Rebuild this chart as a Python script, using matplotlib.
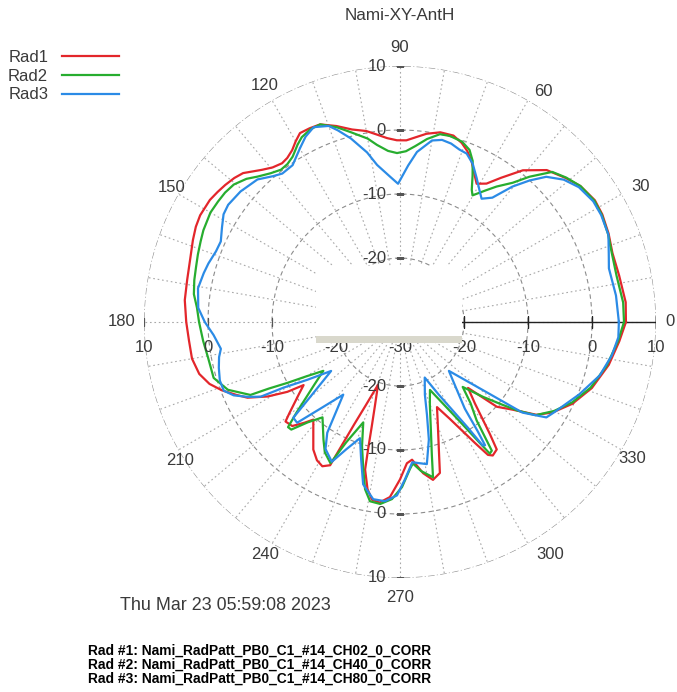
import numpy as np
import matplotlib
matplotlib.use("Agg")
import matplotlib.pyplot as plt
from matplotlib.patches import Rectangle

# ---------------- data ----------------
title = "Nami-XY-AntH"
series_names = ["Rad1", "Rad2", "Rad3"]
series_colors = ["#e3262b", "#27ad2f", "#2b8be6"]

rad1_deg = [0, 5, 12, 18, 23, 28, 32, 37, 41, 46, 51, 55, 58, 61, 63, 66, 68.5, 71, 74, 78,
            82, 85, 88, 91, 94, 97, 100, 104, 108, 112, 115, 117.9, 120, 122.1, 124.5, 126.6,
            129.5, 132.2, 136.5, 139, 141.9, 144.5, 147.3, 151.9, 155, 158.4, 163.6, 168.8,
            174.2, 180, 185, 190, 194.5, 198, 201, 204,
            206.4, 209.4, 211.8, 213.2, 215.5, 217.4, 219.5, 221, 224, 226.5, 228.4, 232, 235.8,
            239, 241.7, 244, 244.8, 245.9, 247.7, 250.7, 253.3, 254.9, 255.9, 256.7, 259, 261,
            263.5, 266.7, 270, 272.8, 275, 278.7, 281.8, 284.8, 286.9, 289.7, 293.5, 297.2,
            299.8, 301.8, 303.5, 304.8, 307.2, 308.7, 310.4, 312.6, 315.9, 318.8, 322.1, 325.8,
            329.3, 334.6, 341, 348.4, 355]
rad1_db = [5.3, 5.4, 5.0, 4.9, 5.4, 5.8, 5.9, 5.3, 4.3, 3.0, 0.5, -2.5, -4.5, -5.3, -4.3, -2.5,
           -1.3, -0.4, 0.3, 0.3, -0.3, -1.0, -1.6, -1.6, -1.2, -0.5, 0.3, 1.0, 2.2, 3.3, 3.4,
           3.4, 2.6, 1.7, 1.1, 0.9, 1.3, 2.1, 3.8, 4.3, 4.7, 5.0, 5.3, 5.4, 5.2, 4.8, 4.2, 3.9,
           3.8, 3.4, 3.1, 3.0, 2.4, 1.3, -0.2, -2.0,
           -3.4, -6.3, -9.3, -12.0, -10.6, -9.3, -7.6, -6.3,
           -6.6, -8.3, -9.6, -8.0, -5.9, -4.8, -4.4, -5.1, -8.9, -12.5, -16.0, -19.6, -16.4,
           -13.0, -9.6, -6.3, -3.4, -1.9, -1.6, -2.6, -5.4, -7.9, -8.4, -6.1, -4.8, -5.6, -9.1,
           -12.4, -15.5, -13.0, -10.4, -7.75, -5.1, -4.6, -5.0, -7.5, -10.1, -12.7, -15.2,
           -9.9, -7.7, -4.2, -2.3, -0.2, 1.7, 3.3, 4.4]

rad2_deg = [0, 5, 12, 18, 23, 28, 32, 37, 41, 44.6, 48.3, 51, 54.5, 57, 60.2, 61.5, 63.6, 65.7,
            68, 71, 75, 78, 81.6, 85, 88, 91, 94, 97.4, 100, 104.7, 108, 112, 115, 118, 120, 123,
            125.5, 128, 131, 134.4, 137, 140.4, 143.5, 146.5, 150, 155, 158, 161.5, 165, 168.5,
            172.3, 176, 180, 185.5,
            190.6, 196.7, 201.5, 206, 206.9, 208.4, 210, 212.5, 216.2, 219, 221.2, 223.2, 224.7,
            227.4, 230.9, 236.9, 240, 243.8, 245.9, 249.9, 253, 256, 258.2, 260.5, 263.8, 267.4,
            270.7, 273.9, 275.2, 278, 282, 283.5, 286, 289.9, 293.8, 298.2, 301, 302.9, 304.3,
            305.5, 307.9, 311, 314, 318, 321, 323, 325.5, 330, 335, 341, 348, 355]
rad2_db = [5.0, 5.0, 4.6, 4.8, 5.3, 5.7, 5.8, 5.3, 4.4, 3.4, 0.4, -2.0, -4.0, -5.5, -7.2, -6.5,
           -4.5, -2.4, -1.0, -0.2, 0.1, 0.0, -1.1, -2.4, -3.3, -3.6, -3.2, -2.1, -0.9, 0.7, 2.0,
           3.3, 3.2, 2.7, 2.0, 0.8, 0.3, 0.2, 0.8, 1.8, 2.8, 3.7, 4.0, 4.1, 4.2, 3.9, 3.6, 3.3,
           3.0, 2.8, 2.5, 1.8, 1.4, 0.9,
           0.5, 0.4, -1.1, -4.0, -7.0, -10.0, -12.9, -15.8, -13.4, -11.0, -8.5, -6.0,
           -6.1, -8.7, -10.8, -8.1, -6.5, -5.4, -9.4, -13.3, -9.7, -6.3, -3.3, -1.6, -1.4, -2.3,
           -4.2, -7.0, -7.8, -6.5, -5.2, -8.7, -12.5, -16.3, -18.4, -15.2, -11.9, -8.5, -5.1,
           -5.3, -10.5, -13.2, -15.9, -12.5, -9.5, -7.0, -4.3, -2.2, -0.3, 1.5, 3.0, 4.2]

rad3_deg = [0, 7, 14.4, 18, 22.7, 28, 32, 37, 41, 44.8, 47.5, 50.3, 53.4, 56.5, 58.8, 62, 65.3,
            68.4, 71, 74, 77, 80, 84.3, 87, 90.8, 94, 98.3, 101, 105, 108, 110, 113.9, 117, 120,
            124.4, 128.4, 131, 135, 140.7, 145.7, 148.6, 152, 155.8, 159, 163, 166, 170.5, 176,
            180, 184, 188.5, 191, 194.2, 198, 201.3, 203.8, 206.2, 208.2, 209.4, 212, 215.4,
            219.8, 221.9, 224.4, 227.4, 232, 236.7, 239.6, 244, 247.1, 251, 254.2, 257.2, 261.4,
            265.2, 269, 271.8, 275, 280.7, 283.8, 286.2, 288.9, 294, 298.1, 300.8, 302.7, 303.8,
            304.6, 305.4, 306.8, 310, 315, 320.9, 323.5, 326.9, 330, 338, 345, 351, 356]
rad3_db = [4.2, 4.0, 3.7, 4.3, 5.3, 5.6, 5.6, 5.0, 3.9, 2.2, 0.0, -2.5, -5.8, -6.9, -6.0, -4.5,
           -2.8, -1.7, -1.5, -1.0, -0.8, -1.2, -3.3, -5.5, -8.4, -7.2, -5.2, -3.0, -0.3, 1.5,
           2.6, 3.3, 2.5, 1.3, -0.3, -0.4, 0.2, 1.5, 2.2, 2.5, 2.3, 1.5, 0.7, 0.8, 1.3, 1.6,
           2.0, 1.6, 0.5, -0.8, -1.7, -1.2, -0.8, -0.4, -0.45, -1.6, -3.5, -5.3, -9.1, -13.0,
           -16.8, -11.8, -7.6, -7.5, -11.6, -15.6, -9.3, -7.0, -5.7, -8.4, -10.8, -7.7, -4.0,
           -2.0, -1.9, -2.9, -5.4, -8.0, -7.4, -11.1, -14.9, -18.0, -20.5, -17.1, -13.9, -10.4,
           -6.8, -6.6, -9.0, -13.1, -16.2, -19.2, -12.7, -6.2, -2.7, -2.0, 0.2, 2.3, 3.5, 4.2]

r_min, r_max = -30, 10
ring_values = [-20, -10, 0, 10]
radial_label_values = [-30, -20, -10, 0, 10]
angle_label_values = [0, 30, 60, 90, 120, 150, 180, 210, 240, 270, 300, 330]
spoke_step_deg = 10
date_text = "Thu Mar 23 05:59:08 2023"
file_lines = ["Rad #1: Nami_RadPatt_PB0_C1_#14_CH02_0_CORR",
              "Rad #2: Nami_RadPatt_PB0_C1_#14_CH40_0_CORR",
              "Rad #3: Nami_RadPatt_PB0_C1_#14_CH80_0_CORR"]

# label placement (style): angle shift (deg) and radius (pixels from centre)
angle_label_shift = [0.2, -0.5, -1.9, 0, -0.2, -0.6, 0, 2.1, -0.1, 0, 2.8, -0.4]
angle_label_rpx = [270, 276, 271, 275, 272, 265, 278, 260, 269, 275, 277, 269]

# ---------------- figure ----------------
plt.rcParams["font.family"] = ["Liberation Sans", "DejaVu Sans"]
W, H = 677, 692
fig = plt.figure(figsize=(W / 100, H / 100), dpi=100)
cx, cy, R = 400, 322, 256
ax = fig.add_axes([(cx - R) / W, (H - cy - R) / H, 2 * R / W, 2 * R / H], projection="polar")
ax.set_theta_zero_location("E")
ax.set_theta_direction(1)
ax.set_rlim(r_min, r_max)
ax.grid(False)
ax.set_xticks([])
ax.set_yticks([])
ax.spines["polar"].set_visible(False)
ax.patch.set_alpha(0)
px_per_unit = R / (r_max - r_min)

txt_col = "#3a3a3a"
grid_col = "#8c8c8c"

# rings
th = np.linspace(0, 2 * np.pi, 721)
for rv in ring_values:
    ls = (0, (6, 2, 1, 2)) if rv == r_max else (0, (4, 3))
    ax.plot(th, np.full_like(th, rv), color=grid_col, lw=0.8, ls=ls, zorder=1)
# spokes
for a in range(0, 360, spoke_step_deg):
    ax.plot([np.deg2rad(a)] * 2, [r_min, r_max], color="#a8a8a8", lw=0.8,
            ls=(0, (1.5, 2.5)), zorder=1)

# solid axis on the right with ticks
ax.plot([0, 0], [r_min, r_max], color="#222222", lw=1.0, zorder=2)
ax.plot([0] * len(ring_values), ring_values, ls="none", marker="|", ms=9,
        mew=1.0, color="#222222", zorder=2)
# small tick marks on vertical and left axes
for ang in (90, 270):
    ax.plot([np.deg2rad(ang)] * len(ring_values), ring_values, ls="none", marker="_",
            ms=6, mew=0.9, color="#555555", zorder=2)
ax.plot([np.pi] * len(ring_values), ring_values, ls="none", marker="|",
        ms=6, mew=0.9, color="#555555", zorder=2)

# series
for deg, db, col, name in zip([rad1_deg, rad2_deg, rad3_deg],
                              [rad1_db, rad2_db, rad3_db], series_colors, series_names):
    t = np.deg2rad(np.r_[deg, deg[0] + 360])
    r = np.r_[db, db[0]]
    ax.plot(t, r, color=col, lw=1.6, label=name, zorder=3, solid_joinstyle="round")

# angle labels
for a, sh, rp in zip(angle_label_values, angle_label_shift, angle_label_rpx):
    ax.text(np.deg2rad(a + sh), r_min + rp / px_per_unit, str(a), ha="center", va="center",
            fontsize=12, color=txt_col)

# radial labels
for rv in radial_label_values:
    for ang in (0, 180):
        if ang == 0 and rv == r_min:
            continue
        ax.annotate(str(rv), xy=(np.deg2rad(ang), rv), xytext=(0, -18),
                    textcoords="offset points", ha="center", va="center",
                    fontsize=12, color=txt_col)
for rv in ring_values:
    for ang in (90, 270):
        ax.annotate(str(rv), xy=(np.deg2rad(ang), rv), xytext=(-10, 0),
                    textcoords="offset points", ha="right", va="center",
                    fontsize=12, color=txt_col)

# center box
fig.add_artist(Rectangle((316 / W, (H - 336) / H), 146 / W, 70 / H,
                         transform=fig.transFigure, facecolor="white",
                         edgecolor="none", zorder=5))
fig.add_artist(Rectangle((316 / W, (H - 343) / H), 146 / W, 7 / H,
                         transform=fig.transFigure, facecolor="#d9d8cc",
                         edgecolor="none", zorder=5))

# title
fig.text(cx / W, 1 - 15 / H, title, ha="center", va="center", fontsize=12.3, color=txt_col)

# legend
leg = ax.legend(loc="upper left", bbox_to_anchor=(8 / W, 1 - 50 / H),
                bbox_transform=fig.transFigure, frameon=False, markerfirst=False,
                fontsize=12, handlelength=3.4, handletextpad=0.85, labelspacing=0.22,
                borderpad=0, borderaxespad=0)
for t in leg.get_texts():
    t.set_color(txt_col)

# date and file names
fig.text(120 / W, 1 - 605 / H, date_text, ha="left", va="center", fontsize=12.9,
         color=txt_col)
for i, line in enumerate(file_lines):
    fig.text(88 / W, 1 - (651 + 14 * i) / H, line, ha="left", va="center",
             fontsize=9.95, fontweight="bold", color="black")

fig.savefig("out.png", dpi=100)
